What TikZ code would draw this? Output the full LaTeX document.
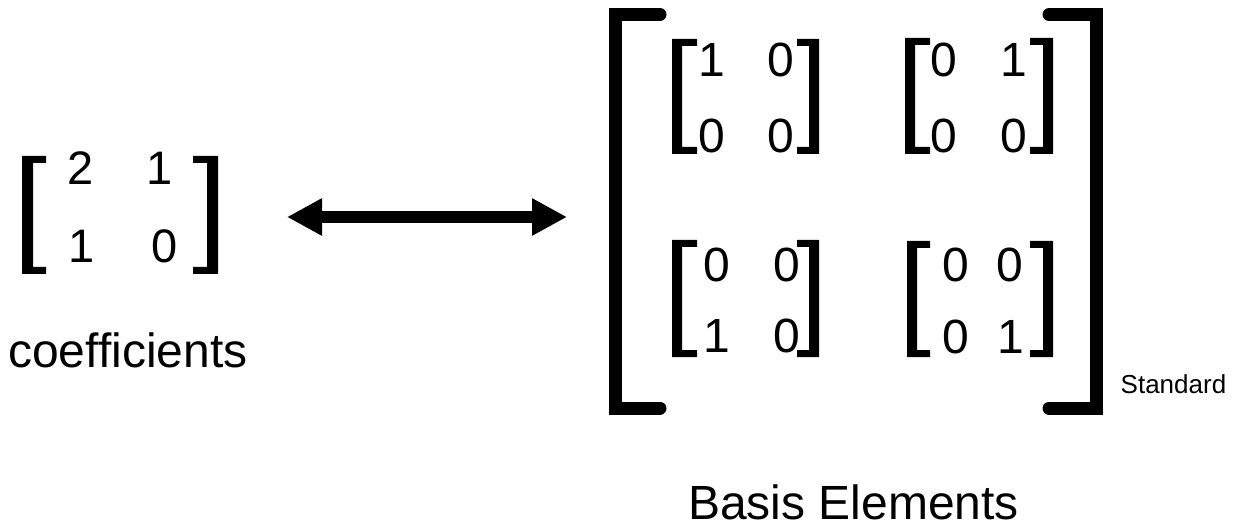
\documentclass[tikz,border=0pt]{standalone}
\usepackage{fontspec}
\setmainfont{Liberation Sans}
\usetikzlibrary{arrows.meta}
\newcommand\mylbk[5]{\fill (#1,#3) -- (#2,#3) -- (#2,{#3+7}) -- ({#1+#5},{#3+7}) -- ({#1+#5},{#4-7}) -- (#2,{#4-7}) -- (#2,#4) -- (#1,#4) -- cycle;}
\newcommand\myrbk[5]{\fill (#1,#3) -- (#2,#3) -- (#2,#4) -- (#1,#4) -- (#1,{#4-7}) -- ({#2-#5},{#4-7}) -- ({#2-#5},{#3+7}) -- (#1,{#3+7}) -- cycle;}
\tikzset{
  dg/.style={font=\fontsize{48}{48}\selectfont, inner sep=0pt, anchor=base},
  dgc/.style={font=\fontsize{47}{47}\selectfont, inner sep=0pt, anchor=base},
  lbl/.style={font=\fontsize{48}{48}\selectfont, inner sep=0pt, anchor=base west, text depth=0pt},
  small/.style={font=\fontsize{26}{26}\selectfont, inner sep=0pt, anchor=base west},
  bigbk/.style={line width=13pt, line cap=round, line join=miter},
  dblarrow/.style={line width=12pt, {Triangle[length=35pt,width=35pt]}-{Triangle[length=35pt,width=35pt]}}
}
\begin{document}
\begin{tikzpicture}[x=1pt,y=-1pt]
\useasboundingbox (0,0) rectangle (1242,529);
% coefficient matrix
\mylbk{22}{46}{156}{274}{11}
\myrbk{193}{218}{156}{274}{11}
\node[dgc] (c11) at (80.5,185) {2};
\node[dgc] (c12) at (160,185) {1};
\node[dgc] (c21) at (82,263) {1};
\node[dgc] (c22) at (164.5,263) {0};
\node[lbl] (coef) at (8,367) {coefficients};
% arrow
\coordinate (arrL) at (287,217);
\coordinate (arrR) at (567,217);
\draw[dblarrow] (arrL) -- (arrR);
% big brackets
\draw[bigbk] (660,14.5) -- (615,14.5) -- (615,408) -- (660,408);
\draw[bigbk] (1049,14.5) -- (1096,14.5) -- (1096,408) -- (1049,408);
% top-left
\mylbk{672}{697}{39}{154}{10}
\myrbk{797}{819}{39}{154}{10}
\node[dg] (a11) at (712,77) {1};
\node[dg] (a12) at (780.5,77) {0};
\node[dg] (a21) at (711.5,153) {0};
\node[dg] (a22) at (780.5,153) {0};
% top-right
\mylbk{905}{930}{38}{154}{10}
\myrbk{1030}{1053}{38}{154}{10}
\node[dg] (b11) at (944,77) {0};
\node[dg] (b12) at (1014,77) {1};
\node[dg] (b21) at (944,153) {0};
\node[dg] (b22) at (1014,153) {0};
% bottom-left
\mylbk{672}{697}{240}{357}{10}
\myrbk{797}{819}{240}{357}{10}
\node[dg] (d11) at (717,282) {0};
\node[dg] (d12) at (786.5,282) {0};
\node[dg] (d21) at (717,352) {1};
\node[dg] (d22) at (786.5,352) {0};
% bottom-right
\mylbk{907}{930}{241}{357}{10}
\myrbk{1030}{1053}{241}{357}{10}
\node[dg] (e11) at (956,282) {0};
\node[dg] (e12) at (1010,282) {0};
\node[dg] (e21) at (956,353) {0};
\node[dg] (e22) at (1011,353) {1};
% labels
\node[small] (std) at (1120.5,393) {Standard};
\node[lbl] (basis) at (688,519) {Basis Elements};
\end{tikzpicture}
\end{document}
